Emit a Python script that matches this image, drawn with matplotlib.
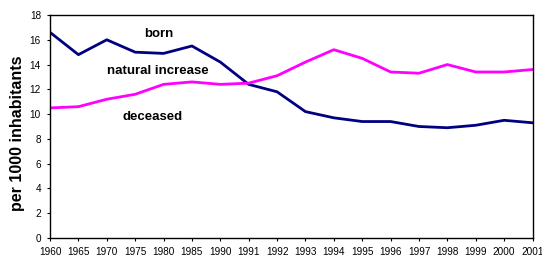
import matplotlib
matplotlib.use("Agg")
import matplotlib.pyplot as plt

# data
years = ["1960", "1965", "1970", "1975", "1980", "1985", "1990", "1991",
         "1992", "1993", "1994", "1995", "1996", "1997", "1998", "1999",
         "2000", "2001"]
born = [16.6, 14.8, 16.0, 15.0, 14.9, 15.5, 14.2, 12.4, 11.8, 10.2, 9.7,
        9.4, 9.4, 9.0, 8.9, 9.1, 9.5, 9.3]
deceased = [10.5, 10.6, 11.2, 11.6, 12.4, 12.6, 12.4, 12.5, 13.1, 14.2,
            15.2, 14.5, 13.4, 13.3, 14.0, 13.4, 13.4, 13.6]
y_ticks = list(range(0, 19, 2))

plt.rcParams['font.family'] = ['Liberation Sans', 'DejaVu Sans']

fig = plt.figure(figsize=(5.42, 2.57), dpi=100)
ax = fig.add_axes([0.0923, 0.074, 0.8902, 0.8676])

x = list(range(len(years)))
ax.plot(x, born, color='#000080', linewidth=2.0, solid_joinstyle='round')
ax.plot(x, deceased, color='#FF00FF', linewidth=2.0, solid_joinstyle='round')

ax.set_xlim(0, len(years) - 1)
ax.set_ylim(0, 18)
ax.set_xticks(x)
ax.set_xticklabels(years)
ax.set_yticks(y_ticks)
ax.tick_params(axis='both', labelsize=7.2, direction='out', length=2.5,
               width=0.8, colors='black')
ax.tick_params(axis='x', pad=4.0)
ax.tick_params(axis='y', pad=4.0)
for side in ax.spines.values():
  side.set_linewidth(1.0)
  side.set_color('black')

ax.set_ylabel('per 1000 inhabitants', fontsize=11.5, fontweight='bold')
ax.yaxis.set_label_coords(-0.052, 0.47)

ax.text(3.84, 16.5, 'born', fontsize=9.5, fontweight='bold',
        ha='center', va='center')
ax.text(3.8, 13.5, 'natural increase', fontsize=9.5, fontweight='bold',
        ha='center', va='center')
ax.text(3.6, 9.77, 'deceased', fontsize=9.5, fontweight='bold',
        ha='center', va='center')

fig.savefig('out.png', dpi=100)
